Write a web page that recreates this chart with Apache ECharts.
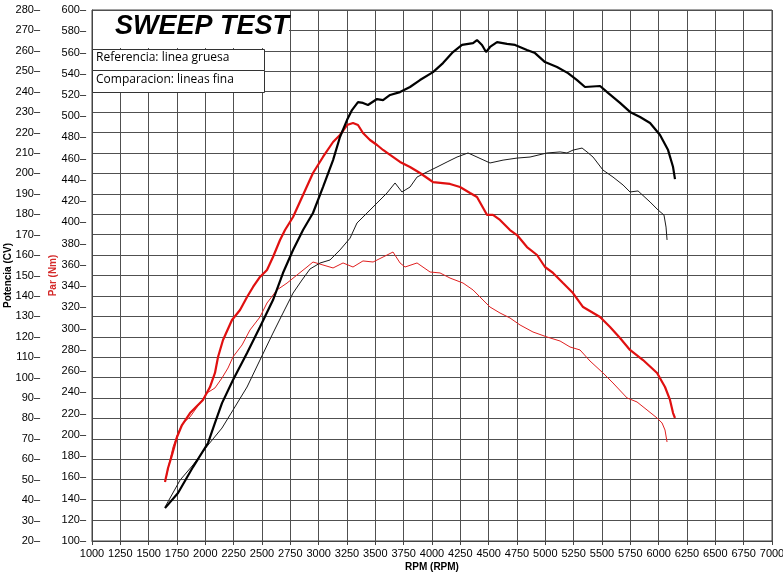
<!DOCTYPE html>
<html>
<head>
<meta charset="utf-8">
<script src="https://cdn.jsdelivr.net/npm/echarts@6/dist/echarts.min.js"></script>
<style>html,body{margin:0;padding:0;background:#fff;}#c{width:783px;height:577px;}</style>
</head>
<body>
<div id="c"></div>
<script>
// Reference power (thick black), CV
const refPowerRpm = [1644,1759,1891,2024,2085,2147,2244,2368,2482,2597,2685,2774,2862,2950,3038,3127,3188,3250,3294,3347,3391,3435,3515,3568,3630,3718,3806,3894,4009,4097,4185,4265,4362,4397,4441,4477,4512,4574,4662,4733,4838,4909,4997,5103,5200,5280,5350,5483,5553,5659,5747,5836,5924,6012,6083,6127,6144];
const refPowerCv = [36.1,43.5,56.2,68.0,77.8,87.5,98.8,112.0,124.8,138.0,151.2,162.5,172.3,180.6,193.3,206.5,217.8,226.1,231.0,234.9,234.5,233.5,236.4,235.9,238.4,239.8,242.3,245.7,249.6,254.0,259.4,262.9,263.8,265.3,262.9,259.4,261.9,264.3,263.4,262.9,260.4,258.9,254.5,252.1,249.1,245.7,242.3,242.8,239.4,234.5,230.1,227.6,224.7,218.8,211.4,203.1,197.2];

// Comparison power (thin black), CV
const cmpPowerRpm = [1644,1777,1891,2024,2147,2244,2368,2482,2597,2685,2774,2853,2924,3012,3100,3188,3277,3338,3427,3515,3603,3674,3735,3806,3868,3956,4044,4133,4221,4318,4397,4512,4627,4750,4865,5015,5130,5191,5244,5324,5368,5421,5509,5597,5686,5747,5818,5924,5994,6047,6065,6074];
const cmpPowerCv = [36.6,49.8,57.2,67.0,75.3,84.1,95.4,108.6,121.8,131.6,141.4,147.8,153.2,156.1,157.6,162.5,168.3,175.7,180.6,185.5,190.4,195.3,190.9,193.3,198.2,200.7,203.1,205.6,208.0,210.0,208.0,205.1,206.5,207.5,208.0,210.0,210.5,210.0,211.4,212.4,210.5,208.0,201.6,198.2,194.3,190.9,191.4,186.0,182.1,179.6,173.7,167.4];

// Reference torque (thick red), Nm
const refTorqueRpm = [1644,1671,1706,1750,1794,1865,1979,2041,2085,2112,2156,2235,2306,2368,2421,2482,2544,2597,2659,2703,2774,2862,2950,3038,3127,3188,3250,3303,3347,3391,3453,3515,3568,3630,3718,3806,3894,3983,4009,4159,4247,4336,4397,4486,4538,4600,4688,4750,4838,4927,4997,5068,5156,5244,5333,5483,5571,5659,5747,5862,5986,6056,6100,6127,6144];
const refTorqueNm = [155.6,168.7,181.0,197.9,209.2,220.5,232.8,245.0,258.2,273.3,289.3,308.1,317.5,329.8,339.2,348.6,355.2,367.4,383.4,392.8,405.1,425.8,446.5,461.6,475.7,482.3,491.7,493.6,491.7,484.2,477.6,472.9,468.2,463.5,456.9,452.2,446.5,439.9,438.0,436.2,433.3,427.7,423.9,407.0,407.0,402.3,392.8,388.1,376.8,369.3,358.0,352.4,342.9,333.5,320.3,310.9,301.5,291.2,279.9,270.4,258.2,245.0,232.8,220.5,215.8];

// Comparison torque (thin red), Nm
const cmpTorqueRpm = [1653,1688,1715,1759,1803,1865,1953,2015,2085,2147,2200,2244,2324,2394,2482,2544,2632,2721,2809,2897,2950,3038,3127,3215,3303,3391,3480,3568,3656,3718,3762,3868,3983,4071,4159,4274,4362,4450,4512,4600,4688,4777,4891,5015,5130,5218,5306,5394,5509,5597,5721,5809,5897,5986,6030,6056,6074];
const cmpTorqueNm = [159.3,176.3,188.5,201.7,211.1,216.8,230.0,239.4,244.1,253.5,262.9,273.3,284.6,298.7,310.9,324.1,336.4,342.9,350.5,358.0,362.7,359.9,357.1,361.8,358.0,363.7,362.7,367.4,372.1,361.8,358.0,361.8,353.3,352.4,347.6,342.9,336.4,326.9,320.3,314.7,310.0,303.4,296.8,292.1,288.3,282.7,279.9,269.5,258.2,248.8,234.7,230.9,223.4,215.8,211.1,204.5,193.2];

const titleText = 'SWEEP TEST';
const legendLines = ['Referencia: linea gruesa', 'Comparacion: lineas fina'];
const xName = 'RPM (RPM)';
const powerName = 'Potencia (CV)';
const torqueName = 'Par (Nm)';

function pairs(xs, ys) { return xs.map((x, i) => [x, ys[i]]); }

const FONT = '"Liberation Sans", Arial, sans-serif';
const GRIDC = '#505050';
const chart = echarts.init(document.getElementById('c'), null, {renderer: 'canvas'});
chart.setOption({
  animation: false,
  backgroundColor: '#fff',
  textStyle: {fontFamily: FONT},
  grid: {left: 92, right: 11, top: 10, bottom: 36, show: true, borderColor: '#444', borderWidth: 1, containLabel: false, outerBoundsMode: 'none'},
  xAxis: {
    type: 'value', min: 1000, max: 7000, interval: 250,
    name: xName, nameLocation: 'middle', nameGap: 21, nameMoveOverlap: false,
    nameTextStyle: {fontWeight: 'bold', fontSize: 10, color: '#000', fontFamily: FONT},
    axisLine: {show: true, lineStyle: {color: '#444'}},
    axisTick: {show: true, length: 4, lineStyle: {color: '#444'}},
    axisLabel: {fontSize: 11, color: '#000', margin: 7, fontFamily: FONT, formatter: v => String(v)},
    splitLine: {show: true, lineStyle: {color: GRIDC, width: 1}}
  },
  yAxis: [
    {
      type: 'value', position: 'left', offset: 46, min: 20, max: 280, interval: 10,
      name: powerName, nameLocation: 'middle', nameGap: 33, nameMoveOverlap: false,
      nameTextStyle: {fontWeight: 'bold', fontSize: 10, color: '#000', fontFamily: FONT},
      axisLine: {show: false}, axisTick: {show: false},
      axisLabel: {fontSize: 11, color: '#000', margin: 6, fontFamily: FONT, formatter: v => v + '–'},
      splitLine: {show: true, lineStyle: {color: GRIDC, width: 1}}
    },
    {
      type: 'value', position: 'left', offset: 0, min: 100, max: 600, interval: 20,
      name: torqueName, nameLocation: 'middle', nameGap: 34, nameMoveOverlap: false,
      nameTextStyle: {fontWeight: 'bold', fontSize: 10, color: '#d42a2a', fontFamily: FONT},
      axisLine: {show: true, lineStyle: {color: '#444'}}, axisTick: {show: false},
      axisLabel: {fontSize: 11, color: '#000', margin: 6, fontFamily: FONT, formatter: v => v + '–'},
      splitLine: {show: false}
    }
  ],
  series: [
    {type: 'line', yAxisIndex: 1, data: pairs(cmpTorqueRpm, cmpTorqueNm), showSymbol: false, lineStyle: {color: '#e02020', width: 1}, z: 3},
    {type: 'line', yAxisIndex: 0, data: pairs(cmpPowerRpm, cmpPowerCv), showSymbol: false, lineStyle: {color: '#1a1a1a', width: 1}, z: 3},
    {type: 'line', yAxisIndex: 1, data: pairs(refTorqueRpm, refTorqueNm), showSymbol: false, lineStyle: {color: '#e01010', width: 2.2}, z: 4},
    {type: 'line', yAxisIndex: 0, data: pairs(refPowerRpm, refPowerCv), showSymbol: false, lineStyle: {color: '#000', width: 2.2}, z: 4}
  ],
  graphic: [
    {type: 'rect', left: 93, top: 11, shape: {width: 196, height: 37}, style: {fill: '#fff'}, z: 10},
    {type: 'text', left: 115, top: 13, style: {text: titleText, font: 'italic bold 27px "Liberation Sans", Arial, sans-serif', fill: '#000'}, z: 11},
    {type: 'rect', left: 92, top: 49, shape: {width: 172, height: 21}, style: {fill: '#fff', stroke: '#333', lineWidth: 1}, z: 10},
    {type: 'rect', left: 92, top: 70, shape: {width: 172, height: 22}, style: {fill: '#fff', stroke: '#333', lineWidth: 1}, z: 10},
    {type: 'text', left: 96, top: 52, style: {text: legendLines[0], font: '12px "Open Sans", sans-serif', fill: '#000'}, z: 11},
    {type: 'text', left: 96, top: 74, style: {text: legendLines[1], font: '12px "Open Sans", sans-serif', fill: '#000'}, z: 11}
  ]
});
</script>
</body>
</html>
